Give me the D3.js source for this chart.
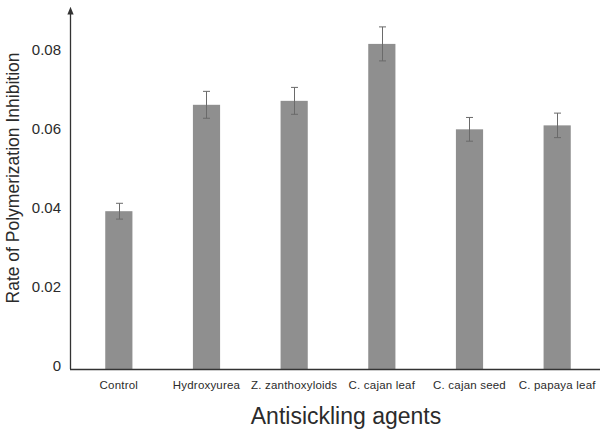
<!DOCTYPE html>
<html>
<head>
<meta charset="utf-8">
<script src="https://cdn.jsdelivr.net/npm/d3@7"></script>
<style>
  body { margin: 0; background: #fff; }
  text { font-family: "Liberation Sans", Arial, sans-serif; fill: #2b2b2b; }
</style>
</head>
<body>
<div id="chart"></div>
<script>
const categories = ["Control", "Hydroxyurea", "Z. zanthoxyloids", "C. cajan leaf", "C. cajan seed", "C. papaya leaf"];
const values = [0.0399, 0.0668, 0.0678, 0.0822, 0.0606, 0.0616];
const errors = [0.0020, 0.0034, 0.0034, 0.0043, 0.0030, 0.0031];
const yTicks = [0, 0.02, 0.04, 0.06, 0.08];

const width = 606, height = 434;
const svg = d3.select("#chart").append("svg")
  .attr("width", width).attr("height", height);

// scales
const x = d3.scaleBand().domain(categories)
  .range([75, 601]).paddingInner(0.69).paddingOuter(0.345);
const y = d3.scaleLinear().domain([0, 0.08]).range([369, 52.6]);

svg.append("defs").append("marker")
  .attr("id", "arrowUp")
  .attr("viewBox", "0 -5 10 10")
  .attr("refX", 2).attr("refY", 0)
  .attr("markerWidth", 6).attr("markerHeight", 6)
  .attr("orient", "auto")
  .append("path").attr("d", "M0,-4L10,0L0,4").attr("fill", "#333");

// bars
svg.append("g").selectAll("rect")
  .data(values)
  .enter().append("rect")
  .attr("x", (d, i) => x(categories[i]))
  .attr("y", d => y(d))
  .attr("width", x.bandwidth())
  .attr("height", d => y(0) - y(d))
  .attr("fill", "#8f8f8f");

// error bars
let eg = svg.append("g").attr("stroke", "#6a6a6a").attr("stroke-width", 1);
values.forEach(function(v, i) {
  let cx = Math.round(x(categories[i]) + x.bandwidth() / 2) + 0.5;
  let top = y(v + errors[i]), bot = y(v - errors[i]);
  eg.append("line").attr("x1", cx).attr("x2", cx).attr("y1", top).attr("y2", bot);
  eg.append("line").attr("x1", cx - 3.5).attr("x2", cx + 3.5).attr("y1", top).attr("y2", top);
  eg.append("line").attr("x1", cx - 3.5).attr("x2", cx + 3.5).attr("y1", bot).attr("y2", bot);
});

// y axis: line with arrow, labels only
svg.append("line")
  .attr("x1", 70.5).attr("x2", 70.5)
  .attr("y1", y(0)).attr("y2", 13)
  .attr("stroke", "#333").attr("stroke-width", 1.3)
  .attr("marker-end", "url(#arrowUp)");

svg.append("g").selectAll("text")
  .data(yTicks)
  .enter().append("text")
  .attr("x", 61)
  .attr("y", d => y(d) - 3)
  .attr("dy", "0.35em")
  .attr("text-anchor", "end")
  .style("font-size", "15px")
  .text(d => d === 0 ? "0" : d3.format(".2f")(d));

// x axis
const xAxis = svg.append("g")
  .attr("transform", "translate(0," + y(0) + ")")
  .call(d3.axisBottom(x).tickSize(0).tickPadding(12));
xAxis.select(".domain").attr("d", "M70,0.5H600").attr("stroke", "#333").attr("stroke-width", 1.3);
xAxis.selectAll(".tick text")
  .attr("fill", "#2b2b2b")
  .style("font-size", "11.5px")
  .style("letter-spacing", "0.2px")
  .style("font-family", "'Liberation Sans', Arial, sans-serif");

// titles
svg.append("text")
  .attr("x", 346).attr("y", 424)
  .attr("text-anchor", "middle")
  .style("font-size", "23px")
  .text("Antisickling agents");

svg.append("text")
  .attr("transform", "translate(19,178) rotate(-90)")
  .attr("text-anchor", "middle")
  .style("font-size", "17.5px")
  .text("Rate of Polymerization Inhibition");
</script>
</body>
</html>
